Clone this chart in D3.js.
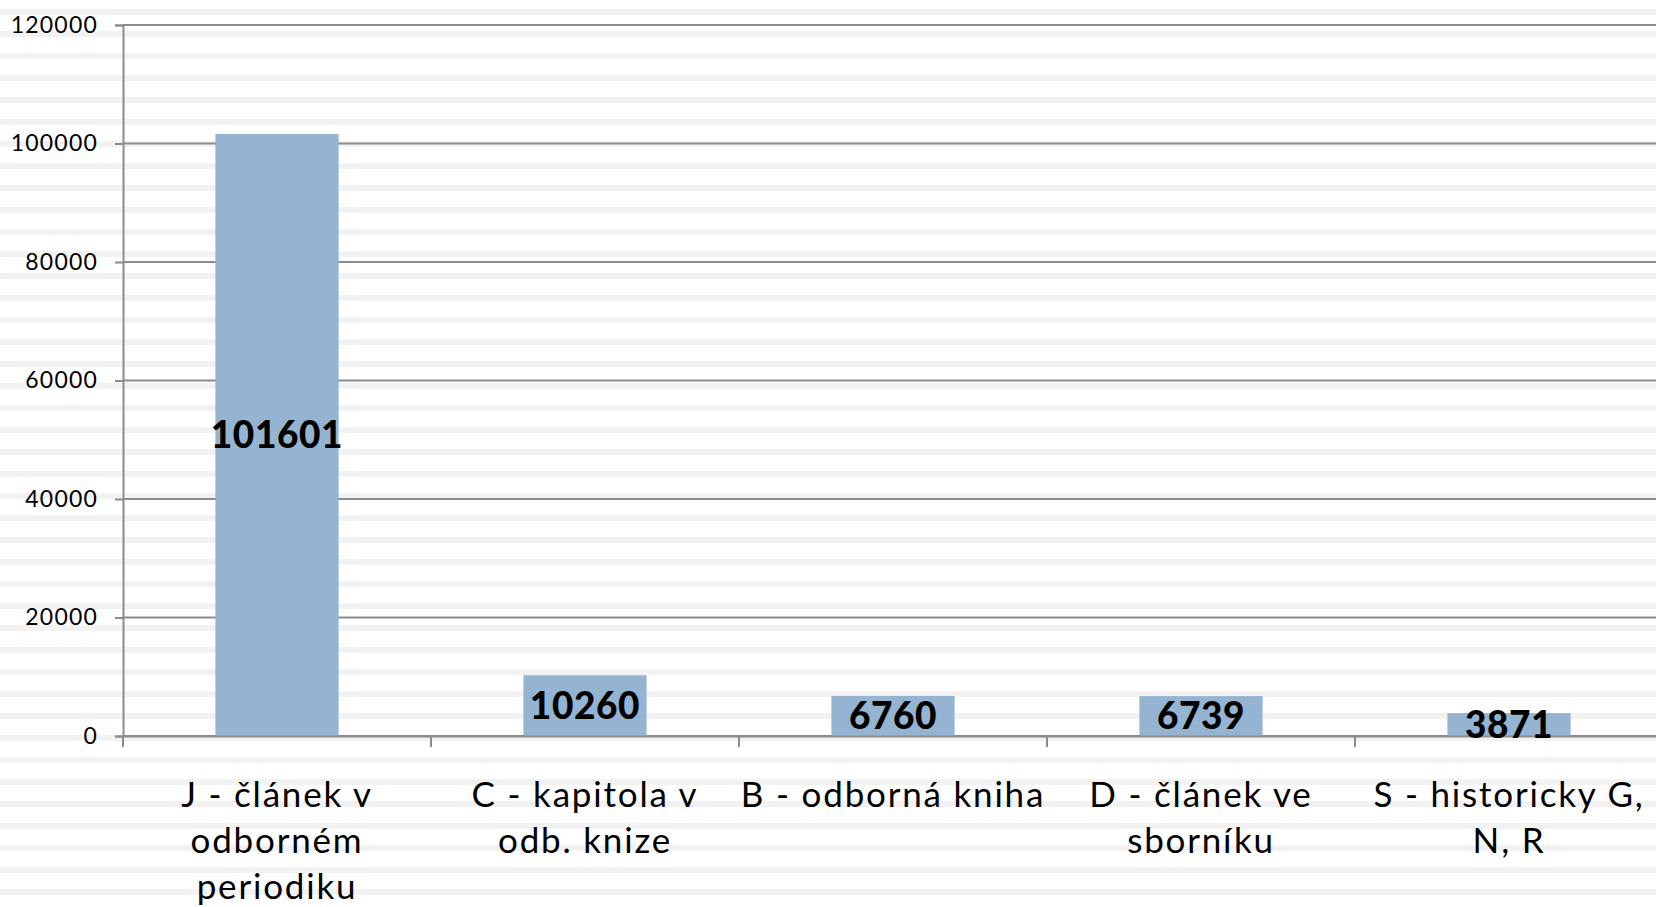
<!DOCTYPE html>
<html lang="cs">
<head>
<meta charset="utf-8">
<title>Výsledky podle druhu</title>
<script src="https://cdn.jsdelivr.net/npm/d3@7"></script>
<style>
  body { margin: 0; background: #fff; }
  svg { display: block; font-family: Lato, "Noto Sans", sans-serif; }
</style>
</head>
<body>
<script>
// data
var categories = ["J", "C", "B", "D", "S"];
var labelLines = [
  ["J - článek v", "odborném", "periodiku"],
  ["C - kapitola v", "odb. knize"],
  ["B - odborná kniha"],
  ["D - článek ve", "sborníku"],
  ["S - historicky G,", "N, R"]
];
var values = [101601, 10260, 6760, 6739, 3871];
var yTicks = [0, 20000, 40000, 60000, 80000, 100000, 120000];

var w = 1656, h = 907;
var mLeft = 123, mTop = 25, mBottom = 736;

var svg = d3.select("body").append("svg")
  .attr("width", w)
  .attr("height", h);

// striped background
svg.append("g").selectAll("rect")
  .data(d3.range(9, h, 22))
  .enter().append("rect")
  .attr("x", 0)
  .attr("y", function(d) { return d; })
  .attr("width", w)
  .attr("height", 6)
  .attr("fill", "#f2f2f2");

// last band runs a little past the right edge, like the original
var x = d3.scaleBand()
  .domain(categories)
  .range([mLeft, mLeft + 5 * 308])
  .paddingInner(0)
  .paddingOuter(0);

var y = d3.scaleLinear()
  .domain([0, 120000])
  .range([mBottom, mTop]);

// grid lines
svg.append("g").selectAll("line")
  .data(yTicks)
  .enter().append("line")
  .attr("x1", mLeft)
  .attr("x2", w)
  .attr("y1", function(d) { return y(d); })
  .attr("y2", function(d) { return y(d); })
  .attr("stroke", "#8c8c8c")
  .attr("stroke-width", 2);

// y axis
var yAxis = d3.axisLeft(y)
  .tickValues(yTicks)
  .tickFormat(d3.format("d"))
  .tickSize(8)
  .tickPadding(17);

var gy = svg.append("g")
  .attr("transform", "translate(" + mLeft + ",0)")
  .call(yAxis);
gy.select(".domain").attr("stroke", "#8c8c8c").attr("stroke-width", 2);
gy.selectAll(".tick line").attr("stroke", "#8c8c8c").attr("stroke-width", 2);
gy.selectAll(".tick text")
  .attr("font-family", "Lato, 'Noto Sans', sans-serif")
  .attr("font-size", 23)
  .attr("letter-spacing", 1.2)
  .attr("fill", "#000");

// bars
var barW = x.bandwidth() * 0.4;
svg.append("g").selectAll("rect")
  .data(values)
  .enter().append("rect")
  .attr("x", function(d, i) { return x(categories[i]) + (x.bandwidth() - barW) / 2; })
  .attr("y", function(d) { return y(d); })
  .attr("width", barW)
  .attr("height", function(d) { return y(0) - y(d); })
  .attr("fill", "#95b4d2");

// x axis
var xAxis = d3.axisBottom(x).tickSize(0).tickFormat("");
var gx = svg.append("g")
  .attr("transform", "translate(0," + mBottom + ")")
  .call(xAxis);
gx.select(".domain").attr("stroke", "#8c8c8c").attr("stroke-width", 2);

// category separator ticks
svg.append("g").selectAll("line")
  .data(categories)
  .enter().append("line")
  .attr("x1", function(d) { return x(d); })
  .attr("x2", function(d) { return x(d); })
  .attr("y1", mBottom)
  .attr("y2", mBottom + 11)
  .attr("stroke", "#8c8c8c")
  .attr("stroke-width", 2);

// value labels, centred in bar
svg.append("g").selectAll("text")
  .data(values)
  .enter().append("text")
  .attr("x", function(d, i) { return x(categories[i]) + x.bandwidth() / 2; })
  .attr("y", function(d) { return (y(d) + y(0)) / 2; })
  .attr("dy", "0.36em")
  .attr("text-anchor", "middle")
  .attr("font-size", 37)
  .attr("font-weight", 900)
  .attr("letter-spacing", 0.6)
  .attr("fill", "#000")
  .text(function(d) { return d; });

// category labels
var lab = svg.append("g").selectAll("text")
  .data(labelLines)
  .enter().append("text")
  .attr("x", function(d, i) { return x(categories[i]) + x.bandwidth() / 2; })
  .attr("y", 807)
  .attr("text-anchor", "middle")
  .attr("font-size", 35)
  .attr("letter-spacing", 1.8)
  .attr("fill", "#000");
lab.selectAll("tspan")
  .data(function(d) { return d; })
  .enter().append("tspan")
  .attr("x", function() { return d3.select(this.parentNode).attr("x"); })
  .attr("dy", function(d, i) { return i === 0 ? 0 : 46; })
  .text(function(d) { return d; });
</script>
</body>
</html>
